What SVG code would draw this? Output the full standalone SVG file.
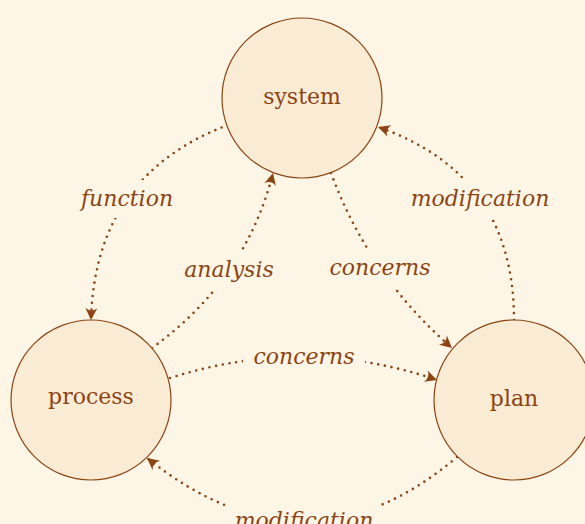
<svg xmlns="http://www.w3.org/2000/svg" width="585" height="524" viewBox="0 0 585 524">
  <defs>
    <marker id="stealth" viewBox="-13 -7 15 14" markerWidth="15" markerHeight="14" refX="0" refY="0" orient="auto" markerUnits="userSpaceOnUse">
      <path d="M0,0 L-12,-6 Q-7,0 -12,6 Z" fill="#8b4513"/>
    </marker>
    <style>
      .node circle { fill: #faebd5; stroke: #8b4513; stroke-width: 1.2; }
      .node text { font-family: "DejaVu Serif", serif; font-size: 22px; fill: #8b4513; text-anchor: middle; }
      .edge { fill: none; stroke: #8b4513; stroke-width: 2.6; stroke-linecap: round; stroke-dasharray: 0 6.8; marker-end: url(#stealth); }
      .lbl-bg { fill: #fdf5e6; }
      .lbl { font-family: "DejaVu Serif", serif; font-style: italic; font-size: 22px; fill: #8b4513; text-anchor: middle; }
    </style>
  </defs>

  <rect width="585" height="524" fill="#fdf5e6"/>

  <g id="connectors">
    <!-- system -> process -->
    <path class="edge" d="M228,125 Q95,175 91,320"/>
    <!-- process -> system -->
    <path class="edge" d="M152,348 Q246,280 273,173"/>
    <!-- system -> plan -->
    <path class="edge" d="M331,173 Q369,276 452,348"/>
    <!-- process -> plan -->
    <path class="edge" d="M170,378 Q305,335 437,380"/>
    <!-- plan -> system -->
    <path class="edge" d="M514,320 Q514,174 378,127"/>
    <!-- plan -> process -->
    <path class="edge" d="M457,457 Q306,585 147,458"/>

    <rect class="lbl-bg" x="74" y="180" width="106" height="38"/>
    <text class="lbl" x="127" y="206">function</text>
    <rect class="lbl-bg" x="180" y="252" width="98" height="38"/>
    <text class="lbl" x="229" y="277">analysis</text>
    <rect class="lbl-bg" x="327" y="250" width="106" height="38"/>
    <text class="lbl" x="380" y="275">concerns</text>
    <rect class="lbl-bg" x="243" y="339" width="122" height="38"/>
    <text class="lbl" x="304" y="364">concerns</text>
    <rect class="lbl-bg" x="405" y="180" width="150" height="38"/>
    <text class="lbl" x="480" y="206">modification</text>
    <rect class="lbl-bg" x="229" y="502" width="150" height="38"/>
    <text class="lbl" x="304" y="528">modification</text>
  </g>

  <g id="system" class="node">
    <circle cx="302" cy="98" r="80"/>
    <text x="302" y="104">system</text>
  </g>
  <g id="process" class="node">
    <circle cx="91" cy="400" r="80"/>
    <text x="91" y="404">process</text>
  </g>
  <g id="plan" class="node">
    <circle cx="514" cy="400" r="80"/>
    <text x="514" y="406">plan</text>
  </g>
</svg>
